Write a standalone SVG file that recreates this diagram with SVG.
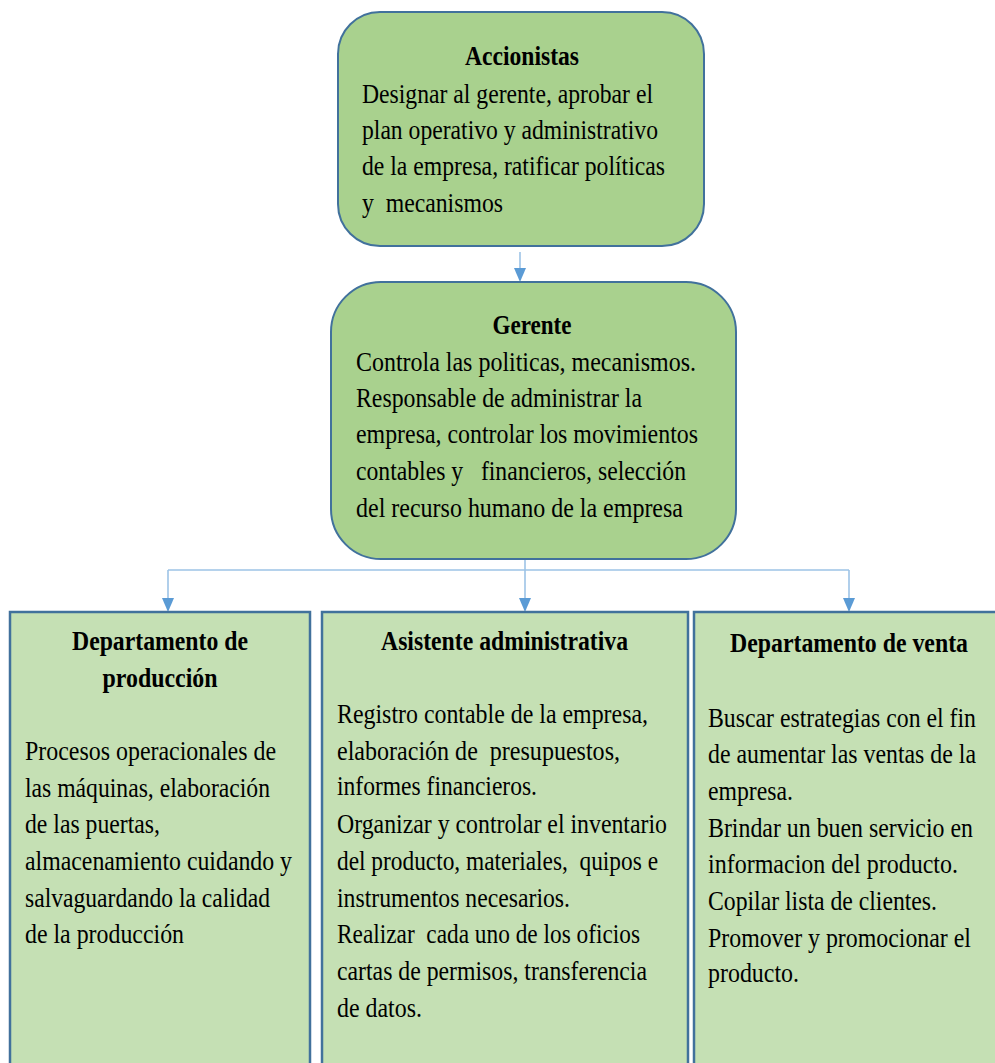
<svg xmlns="http://www.w3.org/2000/svg" width="995" height="1063" viewBox="0 0 995 1063">
<style>
.top{fill:#A9D18E;stroke:#41719C;stroke-width:2}
.dep{fill:#C5E0B4;stroke:#41719C;stroke-width:2.5}
text{font-family:"Liberation Serif","Times New Roman",serif;font-size:27px;fill:#000}
.b{font-weight:bold}
.c{text-anchor:middle}
.con{stroke:#9DC3E6;stroke-width:1.6;fill:none}
</style>
<defs>
<marker id="ah" markerUnits="userSpaceOnUse" markerWidth="12" markerHeight="14" refX="6" refY="13" orient="auto-start-reverse" viewBox="0 0 12 14">
<path d="M0,0 L12,0 L6,14 Z" fill="#5B9BD5" transform="rotate(0)"/>
</marker>
</defs>
<rect width="995" height="1063" fill="#ffffff"/>

<g id="connectors">
<line class="con" x1="520" y1="252" x2="520" y2="269"/>
<path d="M514,268 L526,268 L520,282 Z" fill="#5B9BD5"/>
<line class="con" x1="525" y1="560" x2="525" y2="599"/>
<line class="con" x1="168" y1="570" x2="849" y2="570"/>
<line class="con" x1="168" y1="570" x2="168" y2="599"/>
<line class="con" x1="849" y1="570" x2="849" y2="599"/>
<path d="M519,598 L531,598 L525,612 Z" fill="#5B9BD5"/>
<path d="M162,598 L174,598 L168,612 Z" fill="#5B9BD5"/>
<path d="M843,598 L855,598 L849,612 Z" fill="#5B9BD5"/>
</g>

<g id="accionistas">
<rect class="top" x="338" y="12" width="366" height="234" rx="42" ry="42"/>
<text class="b c" x="522" y="65" textLength="114" lengthAdjust="spacingAndGlyphs">Accionistas</text>
<text x="362" y="103" textLength="291" lengthAdjust="spacingAndGlyphs">Designar al gerente, aprobar el</text>
<text x="362" y="139" textLength="296" lengthAdjust="spacingAndGlyphs">plan operativo y administrativo</text>
<text x="362" y="175" textLength="303" lengthAdjust="spacingAndGlyphs">de la empresa, ratificar políticas</text>
<text x="362" y="212" textLength="141" lengthAdjust="spacingAndGlyphs" xml:space="preserve">y  mecanismos</text>
</g>

<g id="gerente">
<rect class="top" x="331" y="282" width="405" height="277" rx="50" ry="50"/>
<text class="b c" x="532" y="334" textLength="79" lengthAdjust="spacingAndGlyphs">Gerente</text>
<text x="356" y="371" textLength="340" lengthAdjust="spacingAndGlyphs">Controla las politicas, mecanismos.</text>
<text x="356" y="407" textLength="286" lengthAdjust="spacingAndGlyphs">Responsable de administrar la</text>
<text x="356" y="443" textLength="342" lengthAdjust="spacingAndGlyphs">empresa, controlar los movimientos</text>
<text x="356" y="480" textLength="330" lengthAdjust="spacingAndGlyphs" xml:space="preserve">contables y   financieros, selección</text>
<text x="356" y="517" textLength="327" lengthAdjust="spacingAndGlyphs">del recurso humano de la empresa</text>
</g>

<g id="produccion">
<rect class="dep" x="10" y="612" width="300" height="470"/>
<text class="b c" x="160" y="650" textLength="176" lengthAdjust="spacingAndGlyphs">Departamento de</text>
<text class="b c" x="160" y="687" textLength="115" lengthAdjust="spacingAndGlyphs">producción</text>
<text x="25" y="760" textLength="251" lengthAdjust="spacingAndGlyphs">Procesos operacionales de</text>
<text x="25" y="797" textLength="245" lengthAdjust="spacingAndGlyphs">las máquinas, elaboración</text>
<text x="25" y="833" textLength="135" lengthAdjust="spacingAndGlyphs">de las puertas,</text>
<text x="25" y="870" textLength="267" lengthAdjust="spacingAndGlyphs">almacenamiento cuidando y</text>
<text x="25" y="907" textLength="245" lengthAdjust="spacingAndGlyphs">salvaguardando la calidad</text>
<text x="25" y="943" textLength="159" lengthAdjust="spacingAndGlyphs">de la producción</text>
</g>

<g id="asistente">
<rect class="dep" x="322" y="612" width="366" height="470"/>
<text class="b" x="381" y="650" textLength="247" lengthAdjust="spacingAndGlyphs">Asistente administrativa</text>
<text x="337" y="723" textLength="311" lengthAdjust="spacingAndGlyphs">Registro contable de la empresa,</text>
<text x="337" y="760" textLength="283" lengthAdjust="spacingAndGlyphs" xml:space="preserve">elaboración de  presupuestos,</text>
<text x="337" y="795" textLength="200" lengthAdjust="spacingAndGlyphs">informes financieros.</text>
<text x="337" y="833" textLength="330" lengthAdjust="spacingAndGlyphs">Organizar y controlar el inventario</text>
<text x="337" y="870" textLength="321" lengthAdjust="spacingAndGlyphs" xml:space="preserve">del producto, materiales,  quipos e</text>
<text x="337" y="907" textLength="233" lengthAdjust="spacingAndGlyphs">instrumentos necesarios.</text>
<text x="337" y="943" textLength="303" lengthAdjust="spacingAndGlyphs" xml:space="preserve">Realizar  cada uno de los oficios</text>
<text x="337" y="980" textLength="310" lengthAdjust="spacingAndGlyphs">cartas de permisos, transferencia</text>
<text x="337" y="1017" textLength="85" lengthAdjust="spacingAndGlyphs">de datos.</text>
</g>

<g id="venta">
<rect class="dep" x="694" y="612" width="320" height="470"/>
<text class="b" x="730" y="652" textLength="238" lengthAdjust="spacingAndGlyphs">Departamento de venta</text>
<text x="708" y="727" textLength="268" lengthAdjust="spacingAndGlyphs">Buscar estrategias con el fin</text>
<text x="708" y="763" textLength="268" lengthAdjust="spacingAndGlyphs">de aumentar las ventas de la</text>
<text x="708" y="800" textLength="85" lengthAdjust="spacingAndGlyphs">empresa.</text>
<text x="708" y="837" textLength="265" lengthAdjust="spacingAndGlyphs">Brindar un buen servicio en</text>
<text x="708" y="873" textLength="250" lengthAdjust="spacingAndGlyphs">informacion del producto.</text>
<text x="708" y="910" textLength="229" lengthAdjust="spacingAndGlyphs">Copilar lista de clientes.</text>
<text x="708" y="947" textLength="263" lengthAdjust="spacingAndGlyphs">Promover y promocionar el</text>
<text x="708" y="982" textLength="91" lengthAdjust="spacingAndGlyphs">producto.</text>
</g>
</svg>
